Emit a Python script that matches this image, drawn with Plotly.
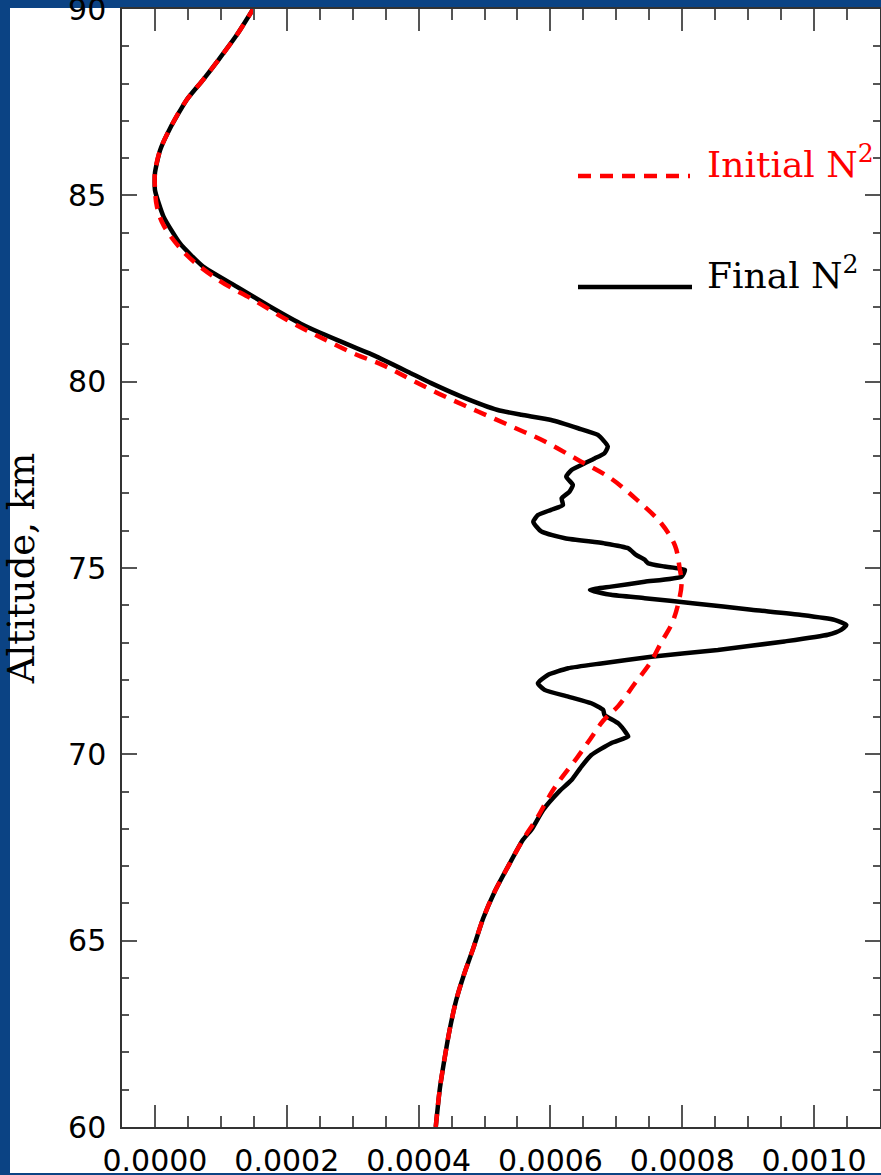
import plotly.graph_objects as go

# ---------------- data ----------------
alt_initial = [60.0, 61.0, 61.9, 62.6, 63.4, 64.1, 64.8, 65.6, 66.3, 67.0, 67.7, 68.3, 68.9, 69.3,
               69.9, 70.4, 70.9, 71.3, 71.9, 72.5, 73.0, 73.5, 74.05, 74.6, 75.0, 75.6, 76.2,
               76.8, 77.4, 77.9, 78.4, 78.8, 79.2, 79.6, 80.05, 80.45, 80.76, 81.2, 81.66, 82.2,
               82.7, 83.4, 84.2, 84.7, 85.2, 85.6, 86.2, 86.8, 87.56, 88.1, 88.65, 89.3, 90.0]
n2_initial = [4.26e-4, 4.32e-4, 4.40e-4, 4.47e-4, 4.57e-4, 4.69e-4, 4.83e-4, 4.98e-4, 5.15e-4,
              5.36e-4, 5.58e-4, 5.80e-4, 5.99e-4, 6.14e-4, 6.40e-4, 6.60e-4, 6.80e-4, 7.03e-4,
              7.28e-4, 7.53e-4, 7.68e-4, 7.84e-4, 7.94e-4, 7.99e-4, 7.96e-4, 7.89e-4, 7.68e-4,
              7.33e-4, 6.92e-4, 6.42e-4, 5.91e-4, 5.41e-4, 4.90e-4, 4.40e-4, 3.89e-4, 3.45e-4,
              3.01e-4, 2.50e-4, 2.00e-4, 1.49e-4, 0.99e-4, 0.48e-4, 0.13e-4, 0.03e-4, 0.0, 0.0,
              0.076e-4, 0.23e-4, 0.48e-4, 0.73e-4, 0.97e-4, 1.24e-4, 1.49e-4]

alt_final = [60.0, 61.0, 61.9, 62.6, 63.4, 64.1, 64.8, 65.6, 66.3, 67.0, 67.7, 68.0, 68.51, 69.0,
             69.31, 69.67, 69.98, 70.30, 70.48, 70.57, 70.83, 71.06, 71.19, 71.37, 71.55, 71.73,
             71.91, 72.13, 72.31, 72.44, 72.62, 72.80, 73.03, 73.21, 73.34, 73.47, 73.61, 73.74,
             73.88, 74.05, 74.19, 74.28, 74.41, 74.50, 74.63, 74.77, 74.95, 75.04, 75.13, 75.22,
             75.35, 75.53, 75.66, 75.80, 75.98, 76.24, 76.42, 76.56, 76.69, 76.87, 77.05, 77.23,
             77.45, 77.63, 77.81, 77.94, 78.08, 78.26, 78.57, 78.75, 78.97, 79.11, 79.24, 79.60,
             79.96, 80.22, 80.70, 81.12, 81.52, 82.01, 82.55, 83.09, 83.71, 84.43, 85.14, 85.6,
             86.2, 86.8, 87.56, 88.1, 88.65, 89.3, 90.0]
n2_final = [4.26e-4, 4.32e-4, 4.40e-4, 4.47e-4, 4.57e-4, 4.69e-4, 4.83e-4, 4.98e-4, 5.15e-4,
            5.36e-4, 5.58e-4, 5.72e-4, 5.89e-4, 6.13e-4, 6.32e-4, 6.47e-4, 6.62e-4, 6.92e-4,
            7.18e-4, 7.15e-4, 7.03e-4, 6.82e-4, 6.80e-4, 6.62e-4, 6.27e-4, 5.91e-4, 5.81e-4,
            5.96e-4, 6.27e-4, 6.77e-4, 7.53e-4, 8.54e-4, 9.55e-4, 10.21e-4, 10.41e-4, 10.49e-4,
            10.31e-4, 9.81e-4, 9.05e-4, 8.19e-4, 7.43e-4, 6.92e-4, 6.60e-4, 6.92e-4, 7.43e-4,
            7.99e-4, 8.04e-4, 7.73e-4, 7.48e-4, 7.43e-4, 7.30e-4, 7.18e-4, 6.82e-4, 6.22e-4,
            5.86e-4, 5.74e-4, 5.81e-4, 6.01e-4, 6.19e-4, 6.17e-4, 6.29e-4, 6.34e-4, 6.24e-4,
            6.32e-4, 6.52e-4, 6.67e-4, 6.82e-4, 6.87e-4, 6.72e-4, 6.42e-4, 6.01e-4, 5.56e-4,
            5.20e-4, 4.65e-4, 4.19e-4, 3.89e-4, 3.33e-4, 2.76e-4, 2.25e-4, 1.75e-4, 1.24e-4,
            0.73e-4, 0.38e-4, 0.13e-4, 0.0, 0.0, 0.076e-4, 0.23e-4, 0.48e-4, 0.73e-4, 0.97e-4,
            1.24e-4, 1.49e-4]

x_tickvals = [0.0, 0.0002, 0.0004, 0.0006, 0.0008, 0.0010]
x_ticktext = ["0.0000", "0.0002", "0.0004", "0.0006", "0.0008", "0.0010"]
y_tickvals = [60, 65, 70, 75, 80, 85, 90]
y_ticktext = ["60", "65", "70", "75", "80", "85", "90"]

label_initial = "Initial N<sup>2</sup>"
label_final = "Final N<sup>2</sup>"
y_title = "Altitude, km"

# ---------------- figure ----------------
W, H = 881, 1175
ML, MR, MT, MB = 122, 1, 9, 48
PW, PH = W - ML - MR, H - MT - MB


def px_to_paper_x(px):
    return (px - ML) / PW


def px_to_paper_y(py):
    return (H - MB - py) / PH


fig = go.Figure()
fig.add_trace(go.Scatter(x=n2_final, y=alt_final, mode="lines",
                         line=dict(color="black", width=4.5, shape="spline", smoothing=0.5),
                         showlegend=False, hoverinfo="skip"))
fig.add_trace(go.Scatter(x=n2_initial, y=alt_initial, mode="lines",
                         line=dict(color="#ff0000", width=4.5, dash="13px,9px",
                                   shape="spline", smoothing=1.0),
                         showlegend=False, hoverinfo="skip"))

axis_common = dict(showline=True, linecolor="#333333", linewidth=1.5, mirror="ticks",
                   ticks="inside", tickcolor="#555555", tickwidth=1.5, showgrid=False,
                   zeroline=False, ticklabeloverflow="allow",
                   tickfont=dict(family="DejaVu Sans", size=30, color="black"))

fig.update_xaxes(range=[-0.00005, 0.0011], tickmode="array", tickvals=x_tickvals,
                 ticktext=x_ticktext, ticklen=22, ticklabelstandoff=6,
                 minor=dict(dtick=0.00005, tick0=0, ticks="inside", ticklen=11,
                            tickcolor="#555555", tickwidth=1.5),
                 **axis_common)
fig.update_yaxes(range=[60, 90], tickmode="array", tickvals=y_tickvals,
                 ticktext=y_ticktext, ticklen=15, ticklabelstandoff=8,
                 minor=dict(dtick=1, tick0=60, ticks="inside", ticklen=7,
                            tickcolor="#555555", tickwidth=1.5),
                 title=dict(text=y_title, standoff=26,
                            font=dict(family="DejaVu Serif", size=37, color="black")),
                 **axis_common)

shapes = [
    # white slide panel behind the chart
    dict(type="rect", xref="paper", yref="paper", layer="below",
         x0=px_to_paper_x(10), x1=px_to_paper_x(890),
         y0=px_to_paper_y(1173), y1=px_to_paper_y(8),
         fillcolor="white", line=dict(width=0)),
    # legend samples
    dict(type="line", xref="paper", yref="paper",
         x0=px_to_paper_x(578), x1=px_to_paper_x(690),
         y0=px_to_paper_y(176), y1=px_to_paper_y(176),
         line=dict(color="#ff0000", width=4.5, dash="13px,9px")),
    dict(type="line", xref="paper", yref="paper",
         x0=px_to_paper_x(578), x1=px_to_paper_x(692),
         y0=px_to_paper_y(287), y1=px_to_paper_y(287),
         line=dict(color="black", width=4.5)),
]

annotations = [
    dict(text=label_initial, xref="paper", yref="paper", showarrow=False,
         x=px_to_paper_x(705), y=px_to_paper_y(162), xanchor="left", yanchor="middle",
         font=dict(family="DejaVu Serif", size=36, color="#ff0000")),
    dict(text=label_final, xref="paper", yref="paper", showarrow=False,
         x=px_to_paper_x(705), y=px_to_paper_y(273), xanchor="left", yanchor="middle",
         font=dict(family="DejaVu Serif", size=36, color="black")),
]

fig.update_layout(width=W, height=H, margin=dict(l=ML, r=MR, t=MT, b=MB, autoexpand=False),
                  paper_bgcolor="#0b4384", plot_bgcolor="white",
                  shapes=shapes, annotations=annotations, showlegend=False)

fig.write_html("out.html")
